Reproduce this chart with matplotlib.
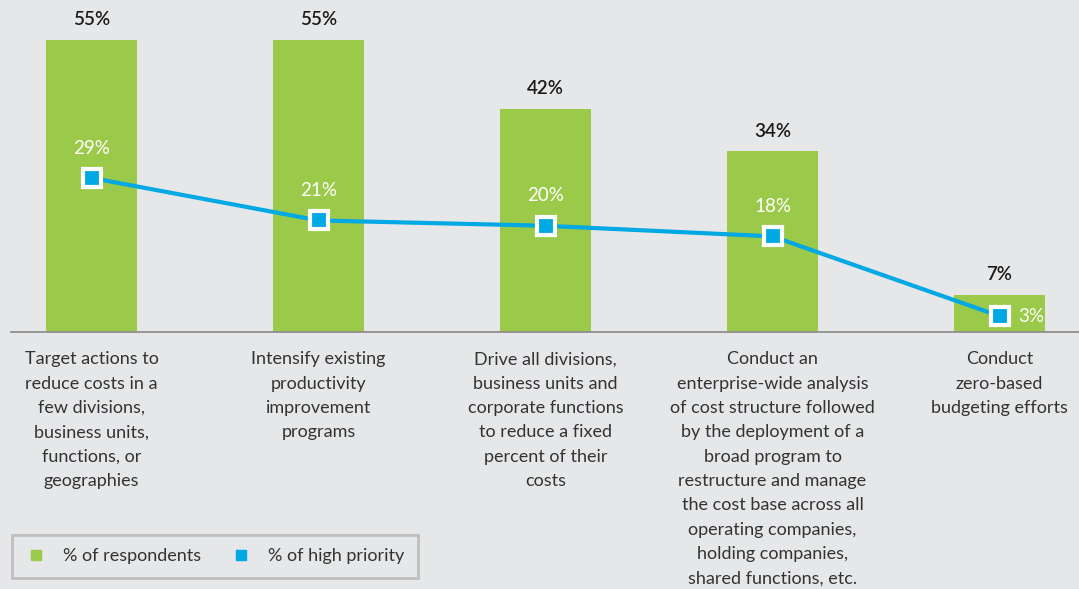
import matplotlib.pyplot as plt
from matplotlib.lines import Line2D

# data
categories = [
    "Target actions to\nreduce costs in a\nfew divisions,\nbusiness units,\nfunctions, or\ngeographies",
    "Intensify existing\nproductivity\nimprovement\nprograms",
    "Drive all divisions,\nbusiness units and\ncorporate functions\nto reduce a fixed\npercent of their\ncosts",
    "Conduct an\nenterprise-wide analysis\nof cost structure followed\nby the deployment of a\nbroad program to\nrestructure and manage\nthe cost base across all\noperating companies,\nholding companies,\nshared functions, etc.",
    "Conduct\nzero-based\nbudgeting efforts",
]
respondents = [55, 55, 42, 34, 7]
high_priority = [29, 21, 20, 18, 3]

BG = "#e6e7e9"
GREEN = "#9bca4a"
BLUE = "#00a9e4"

plt.rcParams["font.family"] = ["Lato", "DejaVu Sans"]


def draw_chart():
    fig = plt.figure(figsize=(10.79, 5.89), dpi=100, facecolor=BG)
    ax = fig.add_axes([11 / 1079, 1 - 332 / 589, 1068 / 1079, 332 / 589])
    ax.set_facecolor(BG)

    x = list(range(len(categories)))
    ax.bar(x, respondents, width=0.4, color=GREEN, zorder=2)

    # bar values above the bars
    for xi, v in zip(x, respondents):
        ax.annotate(f"{v}%", (xi, v), xytext=(0, 14.5), textcoords="offset points",
                    ha="center", va="center", fontsize=13.5, color="#1a1a1a",
                    fontweight="semibold")

    ax.plot(x, high_priority, color=BLUE, lw=3, marker="s", markersize=13,
            markerfacecolor=BLUE, markeredgecolor="white", markeredgewidth=3,
            zorder=3, clip_on=False)

    # priority values in white
    for xi, v in zip(x, high_priority):
        if xi == len(x) - 1:
            off = (23, 0)
        else:
            off = (0, 21.5)
        ax.annotate(f"{v}%", (xi, v), xytext=off, textcoords="offset points",
                    ha="center", va="center", fontsize=13.5, color="white", zorder=4)

    ax.set_xlim(-0.355, 4.35)
    ax.set_ylim(0, 62.5)
    ax.set_yticks([])
    ax.set_xticks(x, categories)
    ax.tick_params(axis="x", length=0, pad=14, labelsize=13, labelcolor="#333333")
    for lbl in ax.get_xticklabels():
        lbl.set_linespacing(1.64)

    for s in ["top", "right", "left"]:
        ax.spines[s].set_visible(False)
    ax.spines["bottom"].set_color("#8f8f8f")
    ax.spines["bottom"].set_linewidth(1.3)

    handles = [
        Line2D([], [], marker="s", linestyle="none", markersize=7,
               color=GREEN, label="% of respondents"),
        Line2D([], [], marker="s", linestyle="none", markersize=7,
               color=BLUE, label="% of high priority"),
    ]
    leg = fig.legend(handles=handles, loc="lower left",
                     bbox_to_anchor=(12 / 1079, 1 - 578 / 589), ncol=2,
                     borderaxespad=0, frameon=True, fancybox=False, facecolor=BG,
                     edgecolor="#b4b4b4", fontsize=13, handletextpad=0.9,
                     columnspacing=1.6, borderpad=0.75, handlelength=1.2,
                     labelcolor="#333333")
    leg.get_frame().set_linewidth(2)

    fig.savefig("out.png", dpi=100, facecolor=BG)


if __name__ == "__main__":
    draw_chart()
